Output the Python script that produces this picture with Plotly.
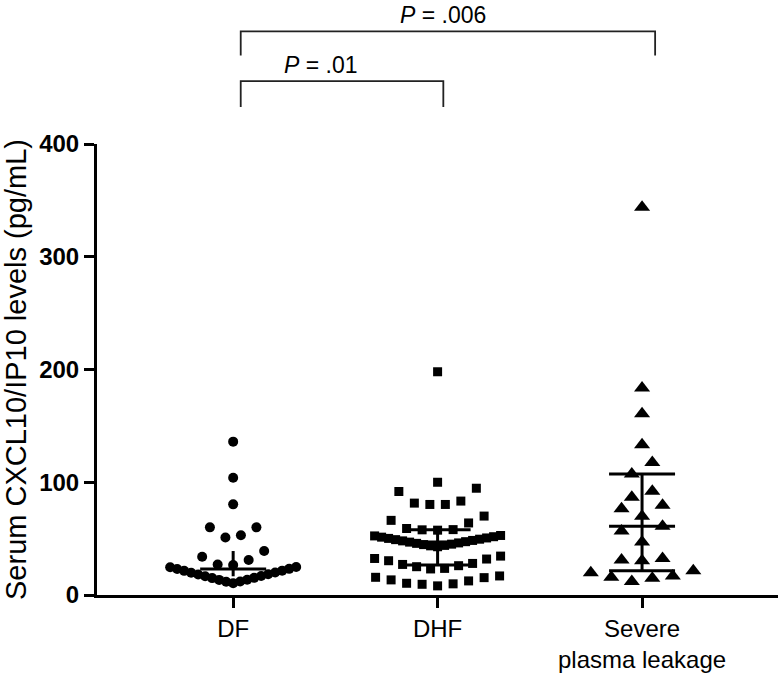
import numpy as np
import plotly.graph_objects as go

# ---------------- data (pg/mL) ----------------
categories = ["DF", "DHF", "Severe<br>plasma leakage"]

df_values = [136, 104, 80.4, 60, 60, 53, 51, 39, 34, 31, 27, 26.5,
             10.4, 11.8, 12.0, 13.4, 13.6, 15.0, 15.2, 16.6, 16.8, 18.2,
             18.4, 19.8, 20.0, 21.4, 21.6, 23.0, 23.2, 24.6, 24.8]

dhf_values = [198, 100, 94.7, 91.8, 83.3, 81.5, 80.3, 80.3, 70, 66.2, 63.9,
              59.0, 58.0, 57.8, 57.5,
              42.8, 43.6, 44.0, 44.7, 45.1, 45.8, 46.2, 46.9, 47.3, 48.0,
              48.4, 49.1, 49.5, 50.2, 50.6, 51.3, 51.7, 52.4, 52.8,
              23.1, 23.6, 25.1, 26.0, 27.1, 28.0, 30.4, 31.9, 32.4, 34.5,
              8.1, 9.5, 9.9, 10.4, 12.5, 13.4, 15.4, 15.7, 16.9]

spl_values = [343.8, 183.7, 160.8, 133.2, 117.6, 107.3, 92, 86.8, 79.5, 76.5,
              69.8, 61, 56.8, 47.1, 32.4, 31, 30.4, 21.6, 19.8, 16.9, 15.7,
              14.8, 11.9]

p_labels = ["<i>P</i> = .01", "<i>P</i> = .006"]
y_ticks = [0, 100, 200, 300, 400]

# ---------------- layout constants ----------------
W, H = 784, 679
ML, MR, MT, MB = 97, 6, 144, 81
X_RANGE = [-0.666, 2.665]
Y_RANGE = [0, 400]
PX_PER_X = (W - ML - MR) / (X_RANGE[1] - X_RANGE[0])
FONT = "Arial, 'Liberation Sans', sans-serif"

groups = [df_values, dhf_values, spl_values]
symbols = ["circle", "square", "triangle-up"]
sizes = [10, 9, 14]
spacings_px = [15.5, 15.5, 20.5]
MAX_HALF_PX = 63
ROW_TOL = 14.5           # value units grouped in one horizontal row
HALF_BAR_PX = 33
draw_caps = [False, True, True]


def row_swarm(values, spacing_px, max_half_px, tol):
    """GraphPad-like scatter: bin sorted values into rows, spread each row
    symmetrically with the lowest value in the middle."""
    order = sorted(range(len(values)), key=lambda i: values[i])
    rows, cur, start = [], [], None
    for i in order:
        if cur and values[i] - start > tol:
            rows.append(cur)
            cur = []
        if not cur:
            start = values[i]
        cur.append(i)
    if cur:
        rows.append(cur)
    offs = [0.0] * len(values)
    for row in rows:
        m = len(row)
        s = spacing_px if m == 1 else min(spacing_px, 2 * max_half_px / (m - 1))
        for k, idx in enumerate(row):
            if m % 2 == 1:
                j = (k + 1) // 2
                sign = -1 if k % 2 == 1 else 1
            else:
                j = k // 2 + 0.5
                sign = -1 if k % 2 == 0 else 1
            offs[idx] = sign * j * s / PX_PER_X
    return offs


fig = go.Figure()

for gi, vals in enumerate(groups):
    offs = row_swarm(vals, spacings_px[gi], MAX_HALF_PX, ROW_TOL)
    xs = [gi + o for o in offs]
    fig.add_trace(go.Scatter(
        x=xs, y=vals, mode="markers",
        marker=dict(symbol=symbols[gi], size=sizes[gi], color="black",
                    line=dict(width=0)),
        cliponaxis=False, showlegend=False, hoverinfo="y"))

# median with interquartile range
for gi, vals in enumerate(groups):
    q1, med, q3 = np.percentile(vals, [25, 50, 75], method="weibull")
    hw = HALF_BAR_PX / PX_PER_X
    lx = [gi - hw, gi + hw, None, gi, gi]
    ly = [med, med, None, q1, q3]
    if draw_caps[gi]:
        lx += [None, gi - hw, gi + hw, None, gi - hw, gi + hw]
        ly += [None, q1, q1, None, q3, q3]
    fig.add_trace(go.Scatter(x=lx, y=ly, mode="lines",
                             line=dict(color="black", width=3),
                             showlegend=False, hoverinfo="skip",
                             cliponaxis=False))


def xpaper(xd):
    return (xd - X_RANGE[0]) / (X_RANGE[1] - X_RANGE[0])


def ypaper(py):
    return (H - MB - py) / (H - MT - MB)


# significance brackets (x in category units, y in pixels from top)
brackets = [
    dict(x0=0.037, x1=1.028, top=80.7, bot=106.7, label=p_labels[0], lx=0.43, ly=64),
    dict(x0=0.037, x1=2.064, top=30.7, bot=55.0, label=p_labels[1], lx=1.027, ly=14),
]
shapes = []
annotations = []
for b in brackets:
    xa, xb = xpaper(b["x0"]), xpaper(b["x1"])
    yt, yb = ypaper(b["top"]), ypaper(b["bot"])
    shapes.append(dict(type="path", xref="paper", yref="paper",
                       path=f"M {xa},{yb} L {xa},{yt} L {xb},{yt} L {xb},{yb}",
                       line=dict(color="#222222", width=1.8)))
    annotations.append(dict(xref="paper", yref="paper", x=xpaper(b["lx"]),
                            y=ypaper(b["ly"]), text=b["label"], showarrow=False,
                            xanchor="center", yanchor="middle",
                            font=dict(family=FONT, size=23, color="black")))

fig.update_layout(
    width=W, height=H,
    margin=dict(l=ML, r=MR, t=MT, b=MB, pad=0),
    paper_bgcolor="white", plot_bgcolor="white",
    shapes=shapes, annotations=annotations,
    showlegend=False,
    xaxis=dict(range=X_RANGE, tickvals=[0, 1, 2], ticktext=categories,
               showline=True, linecolor="black", linewidth=3,
               ticks="outside", ticklen=10, tickwidth=3, tickcolor="black",
               showgrid=False, zeroline=False,
               tickfont=dict(family=FONT, size=24, color="black")),
    yaxis=dict(range=Y_RANGE, tickvals=y_ticks,
               showline=True, linecolor="black", linewidth=3,
               ticks="outside", ticklen=10, tickwidth=3, tickcolor="black",
               showgrid=False, zeroline=False,
               tickfont=dict(family=FONT, size=24, color="black", weight="bold"),
               title=dict(text="Serum CXCL10/IP10 levels (pg/mL)",
                          font=dict(family=FONT, size=29, color="black"),
                          standoff=12)),
)

fig.write_html("out.html", config={"displayModeBar": False},
               post_script="document.body.style.margin='0';document.body.style.overflow='hidden';")
